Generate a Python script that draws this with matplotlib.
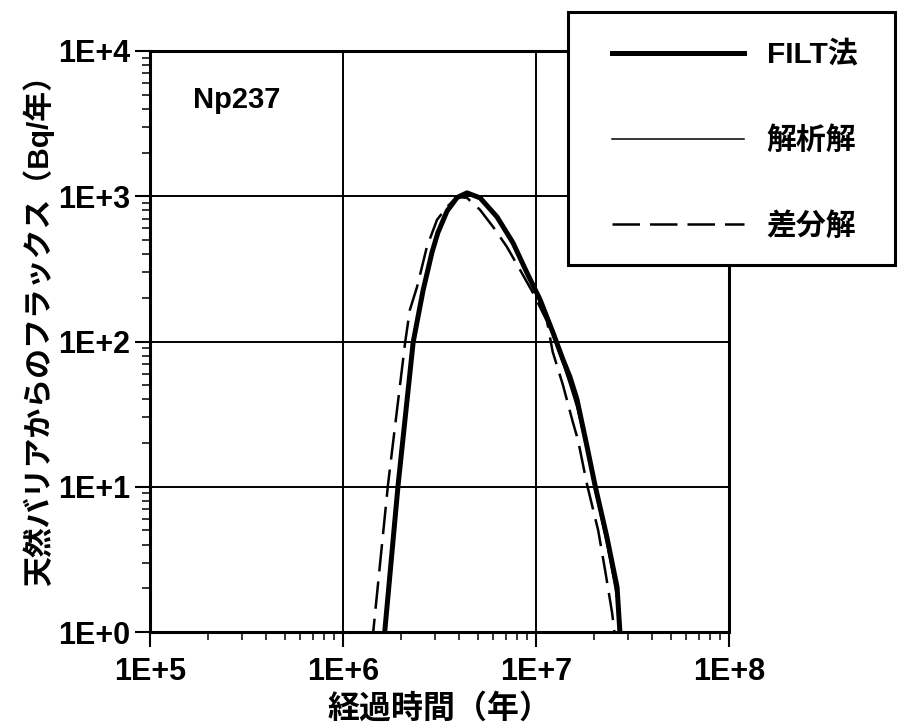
import numpy as np
import matplotlib
matplotlib.use("Agg")
import matplotlib.pyplot as plt
import matplotlib.ticker as mticker
from matplotlib.patches import Rectangle

plt.rcParams['font.family'] = ['Liberation Sans', 'Noto Sans CJK JP', 'DejaVu Sans']
plt.rcParams['font.weight'] = 'bold'

# ============================================
# データ
# ============================================
# FILT法
filt_t = [1.62e6, 1.93e6, 2.31e6, 2.60e6, 2.89e6, 3.10e6, 3.46e6, 3.90e6, 4.39e6,
          5.13e6, 6.28e6, 7.60e6, 8.98e6, 1.05e7, 1.225e7, 1.38e7, 1.50e7, 1.63e7,
          1.84e7, 2.02e7, 2.33e7, 2.63e7, 2.75e7]
filt_f = [0.8, 10.3, 99, 225, 410, 560, 790, 980, 1055,
          975, 721, 478, 297, 194, 115, 75, 57, 40,
          18.8, 10.3, 4.5, 2.04, 0.8]

# 解析解
ana_t = [1.63e6, 1.91e6, 2.29e6, 2.60e6, 2.89e6, 3.46e6, 3.90e6, 4.39e6, 5.13e6,
         6.28e6, 7.60e6, 8.98e6, 1.05e7, 1.225e7, 1.38e7, 1.50e7, 1.63e7, 1.84e7,
         2.02e7, 2.33e7, 2.63e7, 2.75e7]
ana_f = [0.8, 10, 100, 225, 415, 790, 985, 1050, 980,
         720, 475, 295, 190, 110, 70, 50, 35, 17.5,
         9.5, 4.0, 1.7, 0.8]

# 差分解
diff_t = [1.41e6, 1.71e6, 2.10e6, 2.22e6, 2.42e6, 2.72e6, 3.07e6, 3.46e6, 3.90e6,
          4.39e6, 5.13e6, 5.99e6, 7.07e6, 8.27e6, 9.65e6, 1.14e7, 1.22e7, 1.38e7,
          1.55e7, 1.65e7, 1.84e7, 2.10e7, 2.28e7, 2.48e7, 2.60e7]
diff_f = [0.8, 10.3, 99, 165, 238, 448, 688, 845, 990,
          975, 806, 616, 448, 311, 216, 138, 85, 50,
          28, 21, 10.3, 5.0, 2.67, 1.35, 0.8]

labels = ["FILT法", "解析解", "差分解"]
xticks = [1e5, 1e6, 1e7, 1e8]
yticks = [1e0, 1e1, 1e2, 1e3, 1e4]

# ============================================
# 描画
# ============================================
fig = plt.figure(figsize=(8.98, 7.24), dpi=100)
ax = fig.add_axes([150 / 898, 1 - 632 / 724, 579 / 898, 581 / 724])

l1, = ax.plot(filt_t, filt_f, color='k', lw=3.6, solid_joinstyle='round', label=labels[0])
l2, = ax.plot(ana_t, ana_f, color='k', lw=1.1, label=labels[1])
l3, = ax.plot(diff_t, diff_f, color='k', lw=1.8, dashes=(11, 4), label=labels[2])

ax.set_xscale('log')
ax.set_yscale('log')
ax.set_xlim(1e5, 1e8)
ax.set_ylim(1e0, 1e4)
ax.set_xticks(xticks)
ax.set_yticks(yticks)
fmt = mticker.FuncFormatter(lambda v, p: f"1E+{int(round(np.log10(v)))}")
ax.xaxis.set_major_formatter(fmt)
ax.yaxis.set_major_formatter(fmt)
ax.xaxis.set_minor_locator(mticker.LogLocator(base=10, subs=np.arange(2, 10)))
ax.yaxis.set_minor_locator(mticker.LogLocator(base=10, subs=np.arange(2, 10)))
ax.xaxis.set_minor_formatter(mticker.NullFormatter())
ax.yaxis.set_minor_formatter(mticker.NullFormatter())

ax.tick_params(which='major', direction='out', length=11, width=1.5, labelsize=22)
ax.tick_params(axis='x', which='major', pad=7)
ax.tick_params(axis='y', which='major', pad=3)
ax.tick_params(which='minor', direction='out', length=6, width=1.1)
ax.grid(which='major', color='k', lw=1.4)
for s in ax.spines.values():
    s.set_linewidth(2.2)

ax.text(0.074, 0.902, "Np237", transform=ax.transAxes, fontsize=21,
        fontweight='bold', va='baseline', ha='left')

fig.text(440 / 898, 1 - 709 / 724, "経過時間（年）", ha='center', va='center',
         fontsize=23, fontweight='bold')
fig.text(38 / 898, 1 - 323 / 724, "天然バリアからのフラックス（Bq/年）", rotation=90,
         ha='center', va='center', fontsize=21.5, fontweight='bold')

# 凡例（枠は図座標で描く）
box = Rectangle((568 / 898, 1 - 265 / 724), 327 / 898, 253 / 724,
                transform=fig.transFigure, facecolor='white', edgecolor='k',
                lw=2.2, zorder=10)
fig.patches.append(box)
leg = fig.legend(handles=[l1, l2, l3], labels=labels, loc='center',
                 bbox_to_anchor=(735 / 898, 1 - 141 / 724),
                 bbox_transform=fig.transFigure, frameon=False,
                 fontsize=21.5, handlelength=4.4, handletextpad=0.77,
                 labelspacing=1.9, borderpad=0)
leg.set_zorder(11)
for t in leg.get_texts():
    t.set_fontweight('bold')

fig.savefig("out.png", dpi=100)
